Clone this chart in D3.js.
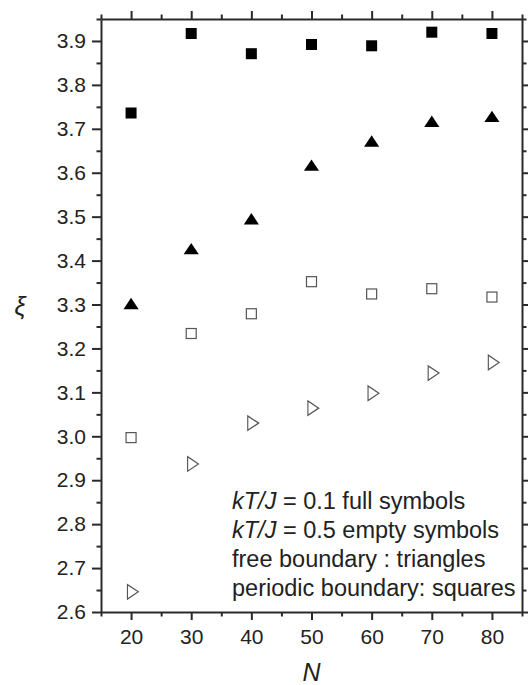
<!DOCTYPE html>
<html>
<head>
<meta charset="utf-8">
<script src="https://d3js.org/d3.v7.min.js"></script>
<style>
  html, body { margin: 0; padding: 0; background: #fff; }
  svg { display: block; }
  text { font-family: "Liberation Sans", Arial, sans-serif; fill: #222; }
</style>
</head>
<body>
<svg id="chart" width="528" height="685"></svg>
<script>
// data
const sizes = [20, 30, 40, 50, 60, 70, 80];
const periodicLowT = [3.736, 3.917, 3.871, 3.892, 3.889, 3.920, 3.917]; // full squares
const freeLowT = [3.298, 3.423, 3.491, 3.613, 3.668, 3.713, 3.724];     // full triangles
const periodicHighT = [2.997, 3.234, 3.279, 3.352, 3.324, 3.336, 3.317]; // empty squares
const freeHighT = [2.646, 2.937, 3.030, 3.064, 3.098, 3.144, 3.168];    // empty triangles
const xTicks = [20, 30, 40, 50, 60, 70, 80];
const yTicks = [2.6, 2.7, 2.8, 2.9, 3.0, 3.1, 3.2, 3.3, 3.4, 3.5, 3.6, 3.7, 3.8, 3.9];
const notes = [
  [["kT/J", true], [" = 0.1 full symbols", false]],
  [["kT/J", true], [" = 0.5 empty symbols", false]],
  [["free boundary : triangles", false]],
  [["periodic boundary: squares", false]],
];

const margin = { top: 19, right: 6, bottom: 73, left: 101 };
const width = 528, height = 685;
const svg = d3.select("#chart");

const x = d3.scaleLinear().domain([15, 85]).range([margin.left, width - margin.right]);
const y = d3.scaleLinear().domain([2.6, 3.95]).range([height - margin.bottom, margin.top]);

const axisColor = "#2a2a2a";

// minor ticks halfway between majors
const xMinor = d3.range(15, 86, 5).filter((v) => v % 10 !== 0);
const yMinor = d3.range(26, 40, 1).map((v) => v / 10 + 0.05).filter((v) => v < 3.95);

function styleAxis(g) {
  g.select(".domain").attr("stroke", axisColor).attr("stroke-width", 2);
  g.selectAll(".tick line").attr("stroke", axisColor).attr("stroke-width", 2);
  g.selectAll("text").attr("font-size", 21).attr("font-family", null).style("fill", "#222");
}

// bottom
svg.append("g")
  .attr("transform", `translate(0,${y.range()[0]})`)
  .call(d3.axisBottom(x).tickValues(xTicks).tickSize(8).tickPadding(8).tickSizeOuter(0))
  .call(styleAxis)
  .call((g) => g.selectAll("text").attr("y", 0).attr("dy", 32));
svg.append("g")
  .attr("transform", `translate(0,${y.range()[0]})`)
  .call(d3.axisBottom(x).tickValues(xMinor).tickSize(4.5).tickFormat("").tickSizeOuter(0))
  .call(styleAxis)
  .call((g) => g.select(".domain").remove());

// top
svg.append("g")
  .attr("transform", `translate(0,${margin.top})`)
  .call(d3.axisTop(x).tickValues(xTicks).tickSize(8).tickFormat("").tickSizeOuter(0))
  .call(styleAxis);
svg.append("g")
  .attr("transform", `translate(0,${margin.top})`)
  .call(d3.axisTop(x).tickValues(xMinor).tickSize(4.5).tickFormat("").tickSizeOuter(0))
  .call(styleAxis)
  .call((g) => g.select(".domain").remove());

// left
svg.append("g")
  .attr("transform", `translate(${margin.left},0)`)
  .call(d3.axisLeft(y).tickValues(yTicks).tickSize(9).tickPadding(6).tickFormat(d3.format(".1f")).tickSizeOuter(0))
  .call(styleAxis);
svg.append("g")
  .attr("transform", `translate(${margin.left},0)`)
  .call(d3.axisLeft(y).tickValues(yMinor).tickSize(4.5).tickFormat("").tickSizeOuter(0))
  .call(styleAxis)
  .call((g) => g.select(".domain").remove());

// right
svg.append("g")
  .attr("transform", `translate(${width - margin.right},0)`)
  .call(d3.axisRight(y).tickValues(yTicks).tickSize(9).tickFormat("").tickSizeOuter(0))
  .call(styleAxis);
svg.append("g")
  .attr("transform", `translate(${width - margin.right},0)`)
  .call(d3.axisRight(y).tickValues(yMinor).tickSize(4.5).tickFormat("").tickSizeOuter(0))
  .call(styleAxis)
  .call((g) => g.select(".domain").remove());

// axis titles
svg.append("text")
  .attr("x", x(50))
  .attr("y", 681)
  .attr("text-anchor", "middle")
  .attr("font-size", 25)
  .attr("font-style", "italic")
  .text("N");

svg.append("text")
  .attr("x", 20)
  .attr("y", y(3.3) + 10)
  .attr("text-anchor", "middle")
  .attr("font-size", 25)
  .attr("font-family", "DejaVu Serif, serif")
  .attr("font-style", "italic")
  .text("ξ");

// markers
const plot = svg.append("g");

const pairs = (vals) => sizes.map((n, i) => ({ n, v: vals[i] }));

plot.selectAll(".fsq").data(pairs(periodicLowT)).join("rect")
  .attr("x", (d) => x(d.n) - 5.5)
  .attr("y", (d) => y(d.v) - 5.5)
  .attr("width", 11).attr("height", 11)
  .attr("fill", "#000");

const triUp = d3.symbol().type(d3.symbolTriangle).size(75);
plot.selectAll(".ftri").data(pairs(freeLowT)).join("path")
  .attr("d", triUp)
  .attr("transform", (d) => `translate(${x(d.n)},${y(d.v)}) scale(1.15,1)`)
  .attr("fill", "#000");

plot.selectAll(".esq").data(pairs(periodicHighT)).join("rect")
  .attr("x", (d) => x(d.n) - 5)
  .attr("y", (d) => y(d.v) - 5)
  .attr("width", 10).attr("height", 10)
  .attr("fill", "none")
  .attr("stroke", "#555")
  .attr("stroke-width", 1.2);

plot.selectAll(".etri").data(pairs(freeHighT)).join("path")
  .attr("d", triUp)
  .attr("transform", (d) => `translate(${x(d.n)},${y(d.v)}) rotate(90) scale(1.1,0.95)`)
  .attr("fill", "none")
  .attr("stroke", "#555")
  .attr("stroke-width", 1.2);

// notes
const note = svg.append("g");
notes.forEach((parts, i) => {
  const t = note.append("text")
    .attr("x", 232)
    .attr("y", 509 + i * 29)
    .attr("font-size", 23.5);
  parts.forEach(([s, it]) => {
    t.append("tspan").attr("font-style", it ? "italic" : "normal").text(s);
  });
});
</script>
</body>
</html>
